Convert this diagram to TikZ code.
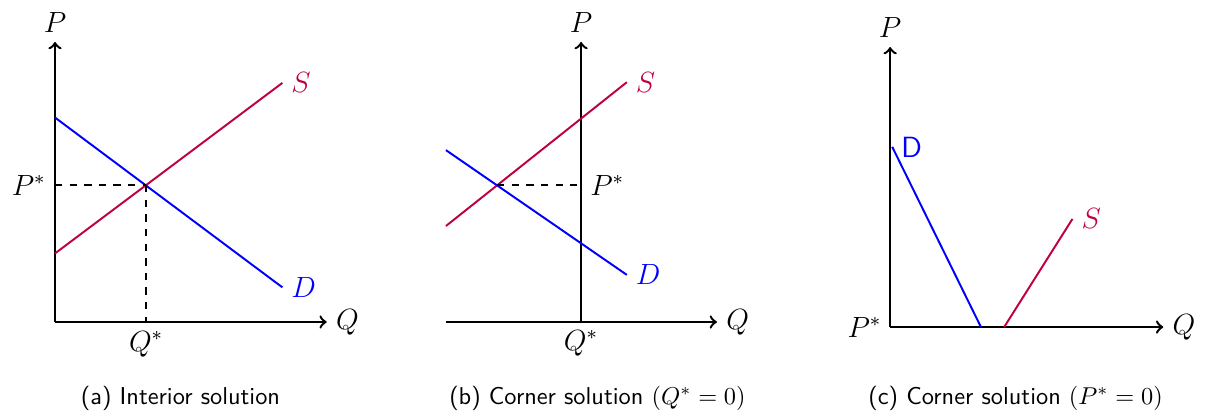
\documentclass[tikz,border=0pt]{standalone}
\usepackage{amsmath,amssymb}
\usepackage{tikz}
\usetikzlibrary{calc,positioning}
\usepackage{xcolor}

\begin{document}
\begin{tikzpicture}[scale=1,
    axis/.style={line width=1pt,->},
    supply/.style={purple,thick},
    demand/.style={blue,thick},
    guide/.style={dashed,line width=0.9pt},
    lbl/.style={font=\large},
    capt/.style={font=\sffamily}]
    \useasboundingbox (0,0) rectangle (17.40,5.974);

    % Panel (a): interior solution
    \begin{scope}[shift={(0.794,1.328)}]
        \coordinate (Oa) at (0,0);
        \coordinate (Ea) at (1.315,1.975);
        \draw[axis] (Oa) -- (0,4.04) node[lbl,above] (Pa) {$P$};
        \draw[axis] (Oa) -- (3.92,0) node[lbl,right] (Qa) {$Q$};
        \draw[supply] (0,0.99) -- (3.28,3.45) node[lbl,right] (Sa) {$S$};
        \draw[demand] (0,2.95) -- (3.28,0.5) node[lbl,right] (Da) {$D$};
        \draw[guide] (0,1.975) node[lbl,left] (Psa) {$P^*$} -- (Ea);
        \draw[guide] (Ea) -- (1.315,0) node[lbl,below] (Qsa) {$Q^*$};
        \node[capt] (capa) at (1.81,-1.10) {(a) Interior solution};
    \end{scope}

    % Panel (b): corner solution, Q* = 0
    \begin{scope}[shift={(8.384,1.328)}]
        \coordinate (Ob) at (0,0);
        \coordinate (Eb) at (-1.2125,1.971);
        \draw[axis] (-1.95,0) -- (1.96,0) node[lbl,right] (Qb) {$Q$};
        \draw[axis] (Ob) -- (0,4.04) node[lbl,above] (Pb) {$P$};
        \draw[supply] (-1.95,1.385) -- (0.66,3.46) node[lbl,right] (Sb) {$S$};
        \draw[demand] (-1.95,2.48) -- (0.66,0.68) node[lbl,right] (Db) {$D$};
        \draw[guide] (Eb) -- (0,1.971) node[lbl,right] (Psb) {$P^*$};
        \node[lbl,below] (Qsb) at (Ob) {$Q^*$};
        \node[capt] (capb) at (0.236,-1.10) {(b) Corner solution $(Q^* = 0)$};
    \end{scope}

    % Panel (c): corner solution, P* = 0
    \begin{scope}[shift={(12.843,1.255)}]
        \coordinate (Oc) at (0,0);
        \draw[axis] (Oc) -- (0,4.04) node[lbl,above] (Pc) {$P$};
        \draw[axis] (Oc) -- (3.94,0) node[lbl,right] (Qc) {$Q$};
        \draw[demand] (0.03,2.6) node[lbl,right,blue] (Dc) {\textsf{D}} -- (1.31,0);
        \draw[supply] (1.645,0) -- (2.63,1.56) node[lbl,right] (Sc) {$S$};
        \node[lbl,left] (Psc) at (Oc) {$P^*$};
        \node[capt] (capc) at (1.81,-1.025) {(c) Corner solution $(P^* = 0)$};
    \end{scope}
\end{tikzpicture}
\end{document}
